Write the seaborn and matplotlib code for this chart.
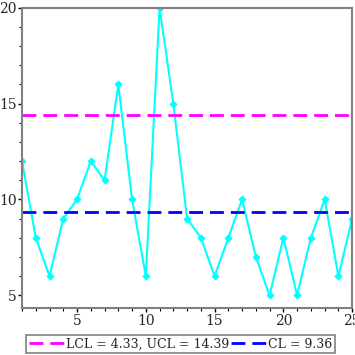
import numpy as np
import pandas as pd
import matplotlib
matplotlib.use('Agg')
import matplotlib.pyplot as plt
import seaborn as sns

# sample values
sample = list(range(1, 26))
values = [12, 8, 6, 9, 10, 12, 11, 16, 10, 6, 20, 15, 9, 8, 6, 8, 10, 7, 5, 8, 5, 8, 10, 6, 9]
lcl = 4.33
ucl = 14.39
cl = 9.36

data = pd.DataFrame({'sample': sample, 'value': values})

sns.set_style('white')
plt.rcParams['font.family'] = ['DejaVu Serif']

fig = plt.figure(figsize=(3.55, 3.55), dpi=100)
ax = fig.add_axes([0.062, 0.132, 0.93, 0.846])

sns.lineplot(data=data, x='sample', y='value', color='#00FFFF', lw=1.5,
             marker='D', markersize=3.5, markeredgecolor='#00FFFF', ax=ax)
ax.axhline(lcl, color='#FF00FF', lw=2, dashes=(5, 2.5), label='LCL = 4.33, UCL = 14.39')
ax.axhline(ucl, color='#FF00FF', lw=2, dashes=(5, 2.5))
ax.axhline(cl, color='#0000FF', lw=2, dashes=(5, 2.5), label='CL = 9.36')

ax.set_xlim(1, 25)
ax.set_ylim(lcl, 20)
ax.set_xticks([5, 10, 15, 20, 25])
ax.set_xticks(range(1, 26), minor=True)
ax.set_yticks([5, 10, 15, 20])
ax.set_yticks(range(5, 21), minor=True)
ax.set_xlabel('')
ax.set_ylabel('')
ax.tick_params(axis='both', which='major', direction='out', length=3, width=1,
               color='black', labelsize=10, pad=1)
ax.tick_params(axis='both', which='minor', direction='out', length=2, width=0.8,
               color='black')
ax.xaxis.set_ticks_position('bottom')
ax.yaxis.set_ticks_position('left')
for s in ax.spines.values():
    s.set_color('#808080')
    s.set_linewidth(1.5)

leg = ax.legend(loc='center', bbox_to_anchor=(0.48, -0.12), ncol=2, frameon=True,
                fontsize=9, handlelength=2.9, handletextpad=0.1, columnspacing=0.1,
                borderpad=0.2, fancybox=False, borderaxespad=0)
leg.get_frame().set_edgecolor('#606060')
leg.get_frame().set_linewidth(1.2)

fig.savefig('out.png', dpi=100)
